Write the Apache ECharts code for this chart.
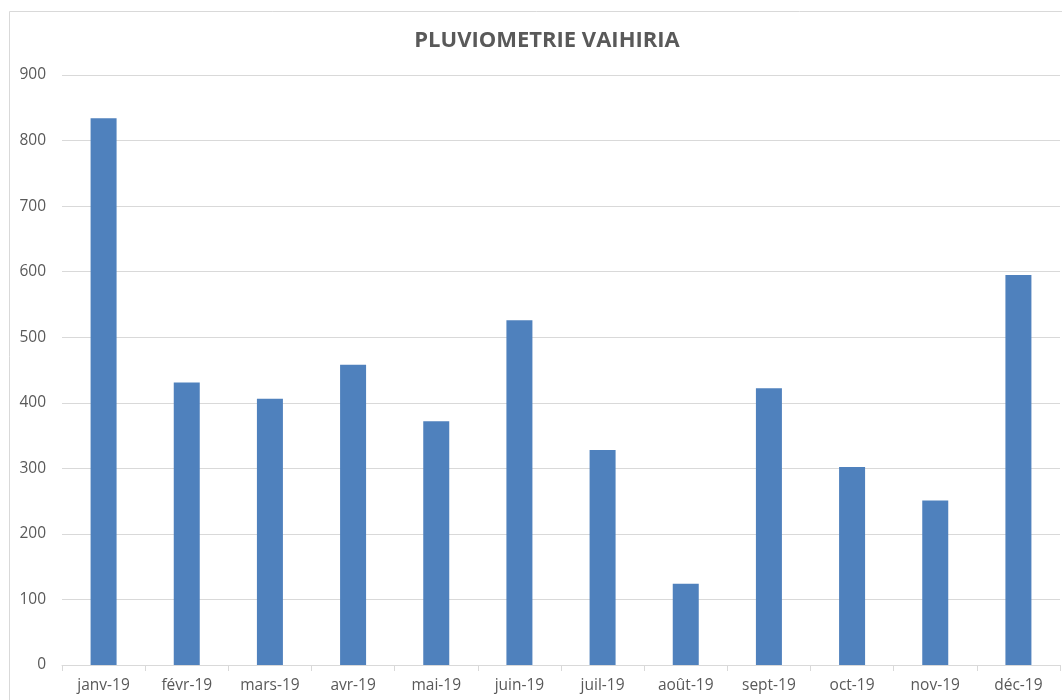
<!DOCTYPE html>
<html>
<head>
<meta charset="utf-8">
<script src="https://cdn.jsdelivr.net/npm/echarts@6/dist/echarts.min.js"></script>
<style>
  html, body { margin: 0; padding: 0; background: #fff; }
  #chart { width: 1062px; height: 700px; }
</style>
</head>
<body>
<div id="chart"></div>
<script>
// monthly rainfall (mm)
const months = ["janv-19", "févr-19", "mars-19", "avr-19", "mai-19", "juin-19",
  "juil-19", "août-19", "sept-19", "oct-19", "nov-19", "déc-19"];
const rain = [834, 431, 406, 458, 372, 526, 328, 124, 422, 302, 251, 595];

const chart = echarts.init(document.getElementById("chart"));
chart.setOption({
  animation: false,
  textStyle: { fontFamily: "Open Sans" },
  title: {
    text: "PLUVIOMETRIE VAIHIRIA",
    left: 542,
    top: 25,
    textAlign: "center",
    textStyle: { fontSize: 22, fontWeight: "bold", color: "#595959" },
  },
  graphic: [
    {
      type: "rect",
      shape: { x: 9.5, y: 11.5, width: 1200, height: 800 },
      style: { fill: "none", stroke: "#d9d9d9", lineWidth: 1 },
      silent: true,
    },
  ],
  grid: { left: 62, right: 2, top: 75, bottom: 35 },
  xAxis: {
    type: "category",
    data: months,
    axisLine: { lineStyle: { color: "#d9d9d9" } },
    axisTick: { show: true, length: 6, lineStyle: { color: "#d9d9d9" } },
    axisLabel: { color: "#595959", fontSize: 15.5, margin: 13, interval: 0 },
  },
  yAxis: {
    type: "value",
    min: 0,
    max: 900,
    interval: 100,
    axisLine: { show: false },
    axisTick: { show: false },
    axisLabel: { color: "#595959", fontSize: 15.5, margin: 16 },
    splitLine: { lineStyle: { color: "#d9d9d9" } },
  },
  series: [
    {
      type: "bar",
      data: rain,
      barWidth: 26,
      itemStyle: { color: "#4f81bd" },
    },
  ],
});
</script>
</body>
</html>
